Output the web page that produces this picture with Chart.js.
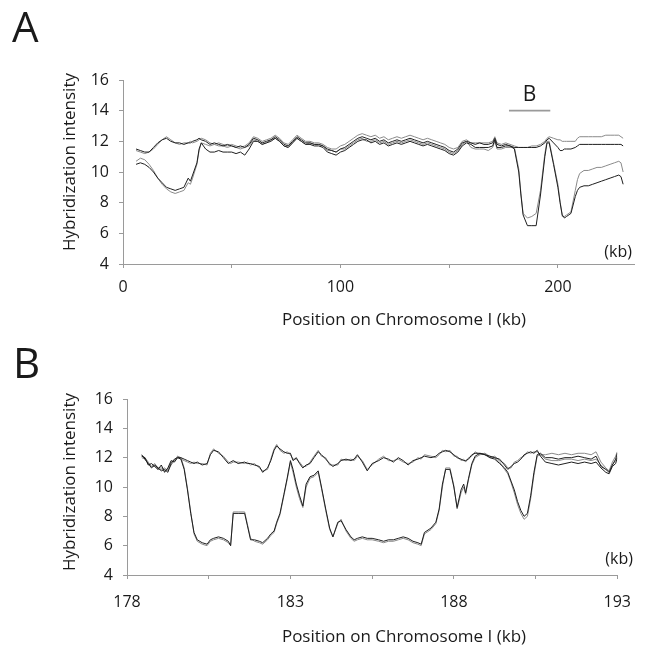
<!DOCTYPE html>
<html><head><meta charset="utf-8">
<script src="https://cdn.jsdelivr.net/npm/chart.js@4.4.0/dist/chart.umd.min.js"></script>
<style>
html,body{margin:0;padding:0;background:#fff;}
#wrap{position:relative;width:645px;height:645px;overflow:hidden;background:#fff;}
canvas{position:absolute;left:0;}
</style></head><body>
<div id="wrap">
<canvas id="ca" width="645" height="330" style="top:0px"></canvas>
<canvas id="cb" width="645" height="315" style="top:330px"></canvas>
</div>
<script>
// ---------- Panel A data (position in kb, hybridization intensity) ----------
const aPos = [6,8,10,12,14,16,18,20,22,24,
  26,28,30,31,32,34,35,36,38,40,
  42,44,46,48,50,52,54,56,58,60,
  62,64,66,68,70,72,74,76,78,80,
  82,84,86,88,90,92,94,96,98,100,
  102,104,106,108,110,112,114,116,118,120,
  122,124,126,128,130,132,134,136,138,140,
  142,144,146,148,150,152,154,156,158,160,
  162,164,166,168,170,171,172,174,176,178,
  180,182,183,184,186,188,190,192,194,195,
  196,198,200,201,202,203,204,206,208,209,
  210,212,214,216,218,220,222,224,226,228,
  229,230];
const aHi1 = [11.5,11.4,11.3,11.3,11.6,11.9,12.1,12.2,12.0,11.9,
  11.9,11.8,11.9,11.9,12.0,12.1,12.2,12.1,12.0,11.8,
  11.9,11.8,11.7,11.8,11.7,11.6,11.7,11.6,11.8,12.2,
  12.1,11.9,12.0,12.1,12.3,12.1,11.8,11.7,12.0,12.3,
  12.1,11.9,11.9,11.8,11.8,11.7,11.5,11.4,11.3,11.5,
  11.6,11.8,12.0,12.2,12.3,12.2,12.1,12.2,12.0,12.1,
  11.9,12.0,12.1,12.0,12.1,12.2,12.1,12.0,11.9,12.0,
  11.9,11.8,11.7,11.6,11.4,11.3,11.5,11.9,12.0,11.9,
  11.8,11.9,11.8,11.8,11.9,12.2,11.8,11.7,11.8,11.7,
  11.6,11.6,11.6,11.6,11.6,11.6,11.6,11.7,11.9,12.1,
  12.2,11.9,11.6,11.4,11.4,11.5,11.5,11.5,11.6,11.7,
  11.8,11.8,11.8,11.8,11.8,11.8,11.8,11.8,11.8,11.8,
  11.8,11.7];
const aHi2 = [11.4,11.3,11.2,11.3,11.5,11.8,12.1,12.3,12.1,11.9,
  11.8,11.9,11.9,12.0,11.9,12.0,12.1,12.2,12.1,11.9,
  11.8,11.9,11.8,11.7,11.8,11.7,11.6,11.7,11.9,12.3,
  12.2,12.0,12.1,12.2,12.4,12.2,11.9,11.8,12.1,12.4,
  12.2,12.0,12.0,11.9,11.9,11.8,11.6,11.5,11.5,11.7,
  11.8,12.0,12.2,12.4,12.5,12.4,12.3,12.4,12.2,12.3,
  12.1,12.2,12.3,12.2,12.3,12.4,12.3,12.2,12.1,12.2,
  12.1,12.0,11.9,11.8,11.6,11.5,11.6,12.0,12.1,11.9,
  11.9,11.9,11.9,11.9,12.0,12.3,11.9,11.8,11.9,11.8,
  11.7,11.6,11.6,11.6,11.6,11.7,11.7,11.8,12.0,12.2,
  12.3,12.2,12.1,12.1,12.0,12.0,12.0,12.0,12.0,12.2,
  12.3,12.3,12.3,12.3,12.3,12.3,12.4,12.4,12.4,12.4,
  12.3,12.2];
const aLo1 = [10.5,10.6,10.5,10.3,10.0,9.6,9.3,9.0,8.9,8.8,
  8.9,9.0,9.6,9.4,9.8,10.6,11.5,11.9,11.5,11.3,
  11.3,11.4,11.3,11.3,11.3,11.2,11.3,11.1,11.5,12.0,
  12.0,11.8,11.9,12.0,12.2,12.0,11.7,11.6,11.9,12.2,
  12.0,11.8,11.8,11.7,11.7,11.6,11.3,11.2,11.1,11.3,
  11.4,11.6,11.8,12.0,12.1,12.1,11.9,12.0,11.8,11.9,
  11.7,11.8,11.9,11.8,11.9,12.0,11.9,11.8,11.7,11.8,
  11.7,11.6,11.5,11.4,11.2,11.1,11.3,11.7,11.9,11.8,
  11.6,11.6,11.6,11.6,11.7,12.1,11.6,11.6,11.7,11.7,
  11.5,10.0,8.5,7.2,6.5,6.5,6.5,8.5,11.0,11.9,
  11.9,10.5,9.0,8.0,7.2,7.0,7.1,7.3,8.4,8.8,
  9.0,9.1,9.1,9.2,9.3,9.4,9.5,9.6,9.7,9.8,
  9.7,9.2];
const aLo2 = [10.7,10.9,10.8,10.5,10.1,9.6,9.2,8.9,8.7,8.6,
  8.7,8.8,9.3,9.2,9.6,10.5,11.4,11.9,11.8,11.7,
  11.8,11.7,11.7,11.6,11.7,11.6,11.5,11.6,11.7,12.1,
  12.0,11.8,11.9,12.1,12.2,12.0,11.7,11.6,11.9,12.2,
  12.0,11.8,11.9,11.8,11.8,11.7,11.4,11.4,11.3,11.5,
  11.5,11.7,11.9,12.1,12.2,12.0,12.0,12.1,11.9,12.0,
  11.8,11.9,12.0,11.9,12.0,12.1,12.0,11.9,11.8,11.9,
  11.8,11.7,11.6,11.5,11.3,11.2,11.4,11.8,12.0,11.6,
  11.5,11.5,11.5,11.4,11.6,12.0,11.5,11.5,11.6,11.6,
  11.6,10.2,8.6,7.3,7.0,7.1,7.3,8.8,11.2,12.0,
  12.0,10.6,9.2,8.1,7.1,7.1,7.2,7.4,8.8,9.5,
  9.9,10.1,10.1,10.2,10.3,10.3,10.4,10.5,10.6,10.7,
  10.6,10.0];
// region shown in panel B (marker bar) and its label position
const regionB = [177.5, 196.5];
const regionBLevel = 14;

// ---------- Panel B data ----------
const bPos = [178.45,178.55,178.65,178.75,178.85,178.95,179.05,179.15,179.25,179.35,
  179.45,179.55,179.65,179.75,179.85,179.95,180.05,180.15,180.3,180.45,
  180.55,180.65,180.8,180.95,181.1,181.17,181.25,181.4,181.6,181.68,
  181.78,181.9,182.05,182.15,182.3,182.4,182.5,182.58,182.68,182.8,
  182.9,183.0,183.08,183.18,183.28,183.38,183.48,183.6,183.72,183.85,
  183.95,184.08,184.2,184.3,184.45,184.55,184.7,184.85,184.95,185.05,
  185.2,185.35,185.5,185.7,185.85,186.0,186.15,186.3,186.45,186.6,
  186.75,186.9,187.0,187.1,187.3,187.45,187.55,187.65,187.75,187.88,
  188.0,188.1,188.22,188.3,188.36,188.45,188.55,188.65,188.8,188.95,
  189.1,189.25,189.4,189.55,189.65,189.75,189.85,189.95,190.05,190.15,
  190.25,190.35,190.45,190.55,190.65,190.8,191.0,191.2,191.4,191.6,
  191.8,192.0,192.2,192.35,192.5,192.65,192.75,192.85,192.95,193.0];
const bHi1 = [12.1,12.0,11.5,11.6,11.4,11.2,11.5,11.0,11.3,11.8,
  11.7,12.0,12.0,11.9,11.8,11.7,11.6,11.7,11.5,11.6,
  12.2,12.5,12.4,12.0,11.6,11.7,11.8,11.6,11.7,11.6,
  11.6,11.5,11.4,11.0,11.3,11.8,12.5,12.8,12.6,12.4,
  12.3,12.3,11.8,12.0,11.6,11.3,11.5,11.6,12.0,12.4,
  12.2,11.9,11.6,11.4,11.6,11.8,11.9,11.8,11.9,12.2,
  11.7,11.1,11.6,11.8,12.0,11.9,11.7,12.0,11.8,11.5,
  11.8,11.9,12.0,12.1,12.0,12.1,12.3,12.4,12.5,12.4,
  12.2,12.0,11.9,11.8,11.8,11.9,12.2,12.3,12.3,12.2,
  12.1,12.0,11.9,11.5,11.2,11.4,11.6,11.7,11.9,12.2,
  12.3,12.4,12.3,12.5,12.1,11.7,11.6,11.5,11.6,11.7,
  11.6,11.7,11.6,11.7,11.3,11.0,10.9,11.4,11.6,12.0];
const bHi2 = [12.0,11.9,11.6,11.4,11.6,11.3,11.3,11.1,11.2,11.7,
  11.8,12.1,11.9,11.8,11.7,11.6,11.7,11.6,11.6,11.5,
  12.3,12.6,12.3,12.1,11.7,11.6,11.7,11.7,11.6,11.7,
  11.5,11.6,11.3,11.1,11.2,11.9,12.6,12.9,12.5,12.3,
  12.4,12.2,11.9,11.9,11.7,11.4,11.4,11.7,12.1,12.5,
  12.1,12.0,11.5,11.5,11.5,11.9,11.8,11.9,11.8,12.1,
  11.8,11.2,11.5,11.9,12.1,11.8,11.8,11.9,11.7,11.6,
  11.7,12.0,11.9,12.2,12.1,12.0,12.2,12.5,12.4,12.5,
  12.1,12.1,11.8,11.9,11.7,12.0,12.1,12.4,12.2,12.3,
  12.0,12.1,11.8,11.6,11.3,11.3,11.7,11.8,12.0,12.1,
  12.4,12.3,12.4,12.4,12.2,11.9,11.8,11.8,11.9,11.9,
  11.8,11.9,11.8,11.9,11.5,11.2,11.1,11.5,11.8,12.1];
const bLo1 = [12.2,11.9,11.6,11.3,11.5,11.3,11.1,11.2,11.0,11.6,
  11.9,12.0,11.9,11.2,9.8,8.2,6.9,6.4,6.2,6.1,
  6.4,6.5,6.6,6.5,6.3,6.0,8.2,8.2,8.2,7.4,
  6.4,6.4,6.3,6.2,6.5,6.8,7.0,7.6,8.2,9.5,
  10.6,11.8,11.2,10.2,9.4,8.7,10.2,10.7,10.8,11.1,
  10.0,8.5,7.2,6.6,7.6,7.7,7.1,6.6,6.4,6.5,
  6.6,6.5,6.5,6.4,6.3,6.4,6.4,6.5,6.6,6.5,
  6.3,6.2,6.1,6.9,7.2,7.6,8.5,10.2,11.2,11.2,
  10.0,8.6,9.8,10.2,9.6,10.6,11.6,12.1,12.3,12.2,
  12.0,11.9,11.6,11.3,11.0,10.4,9.8,9.0,8.4,8.0,
  8.2,9.4,11.0,12.2,12.3,12.0,12.0,11.9,12.0,12.0,
  12.1,12.0,11.9,12.1,11.4,11.2,11.0,11.5,11.9,12.3];
const bLo2 = [12.1,12.0,11.7,11.4,11.4,11.2,11.2,11.3,11.1,11.5,
  11.8,12.1,12.0,11.3,9.9,8.3,6.8,6.3,6.1,6.0,
  6.3,6.4,6.5,6.4,6.2,6.0,8.3,8.3,8.3,7.5,
  6.5,6.3,6.2,6.1,6.4,6.7,6.9,7.5,8.1,9.4,
  10.5,11.7,11.0,10.0,9.2,8.6,10.0,10.6,10.7,11.0,
  9.9,8.4,7.1,6.6,7.5,7.8,7.0,6.5,6.3,6.4,
  6.5,6.4,6.4,6.3,6.2,6.3,6.3,6.4,6.5,6.4,
  6.2,6.1,6.0,6.8,7.1,7.5,8.4,10.0,11.3,11.3,
  10.1,8.5,9.6,10.0,9.5,10.5,11.5,12.0,12.2,12.3,
  12.1,12.0,11.7,11.2,10.9,10.3,9.6,8.8,8.2,7.8,
  8.0,9.2,10.8,12.1,12.2,12.2,12.3,12.2,12.3,12.2,
  12.3,12.3,12.2,12.4,11.7,11.3,11.1,11.7,12.1,12.4];

// ---------- axis tick definitions ----------
const aTickLabels = [0, 100, 200];
const bTickLabels = [178, 183, 188, 193];
const yTicks = [4, 6, 8, 10, 12, 14, 16];

// ---------- styling ----------
const FONT = "'Open Sans', 'Noto Sans', sans-serif";
const TEXT = '#1a1a1a';
const AXIS = '#9a9a9a';
const DARK = '#1e1e1e';
const GRAY = '#8a8a8a';
Chart.defaults.font.family = FONT;
Chart.defaults.color = TEXT;

function pts(xs, ys) { return xs.map((x, i) => ({ x: x, y: ys[i] })); }
function lineDs(data, color) {
  return { data: data, borderColor: color, borderWidth: 1, pointRadius: 0, tension: 0, fill: false };
}

function textPlugin(draw) {
  return { id: 'texts' + Math.random().toString(36).slice(2), afterDraw(chart) {
    const ctx = chart.ctx; ctx.save(); ctx.fillStyle = TEXT; draw(ctx, chart); ctx.restore();
  } };
}

function baseOptions(cfg) {
  return {
    responsive: false, animation: false, devicePixelRatio: 1,
    layout: { padding: cfg.padding },
    plugins: { legend: { display: false }, tooltip: { enabled: false } },
    scales: {
      x: {
        type: 'linear', min: cfg.xmin, max: cfg.xmax,
        ticks: { stepSize: cfg.xstep, autoSkip: false, maxRotation: 0, padding: cfg.xpad,
          font: { size: 16 }, color: TEXT,
          callback: (v) => cfg.xlabels.some(l => Math.abs(l - v) < 1e-6) ? String(v) : '' },
        grid: { drawOnChartArea: false, drawTicks: true, tickLength: 4, color: AXIS, lineWidth: 1 },
        border: { display: true, color: AXIS, width: 1 },
        afterBuildTicks: (s) => { s.ticks = s.ticks.filter(t => cfg.xkeep(t.value)); },
        afterFit: (s) => { s.height = cfg.xh; }
      },
      y: {
        type: 'linear', min: 4, max: 16,
        ticks: { stepSize: 2, padding: 10, font: { size: 16 }, color: TEXT },
        afterBuildTicks: (s) => { s.ticks = yTicks.map(v => ({ value: v })); },
        grid: { drawOnChartArea: false, drawTicks: true, tickLength: 4, color: AXIS, lineWidth: 1 },
        border: { display: true, color: AXIS, width: 1 },
        afterFit: (s) => { s.width = cfg.yw; }
      }
    }
  };
}

// ---------- Panel A ----------
new Chart(document.getElementById('ca'), {
  type: 'line',
  data: { datasets: [
    lineDs(pts(aPos, aHi1), DARK),
    lineDs(pts(aPos, aLo1), DARK),
    lineDs(pts(aPos, aHi2), GRAY),
    lineDs(pts(aPos, aLo2), GRAY),
    Object.assign(lineDs(regionB.map(x => ({ x: x, y: regionBLevel })), '#9a9a9a'), { borderWidth: 1.6 })
  ] },
  options: baseOptions({ padding: { left: 0, top: 80, right: 11, bottom: 0 },
    xmin: 0, xmax: 235, xstep: 50, xpad: 10, xlabels: aTickLabels, xh: 66, yw: 123,
    xkeep: (v) => v % 50 === 0 && v <= 200 }),
  plugins: [textPlugin((ctx, chart) => {
    const xs = chart.scales.x, ys = chart.scales.y;
    ctx.textAlign = 'left'; ctx.textBaseline = 'alphabetic';
    ctx.font = '42px ' + FONT; ctx.fillText('A', 12, 42);
    ctx.font = '21px ' + FONT; ctx.textAlign = 'center'; ctx.textBaseline = 'middle';
    ctx.fillText('B', xs.getPixelForValue((regionB[0] + regionB[1]) / 2), ys.getPixelForValue(15));
    ctx.font = '16px ' + FONT; ctx.textAlign = 'right';
    ctx.fillText('(kb)', 632, 252);
    ctx.font = '17px ' + FONT; ctx.textAlign = 'center';
    ctx.fillText('Position on Chromosome I (kb)', 404, 320);
    ctx.save(); ctx.translate(70, 162); ctx.rotate(-Math.PI / 2);
    ctx.fillText('Hybridization intensity', 0, 0); ctx.restore();
  })]
});

// ---------- Panel B ----------
new Chart(document.getElementById('cb'), {
  type: 'line',
  data: { datasets: [
    lineDs(pts(bPos, bHi1), DARK),
    lineDs(pts(bPos, bLo1), DARK),
    lineDs(pts(bPos, bHi2), GRAY),
    lineDs(pts(bPos, bLo2), GRAY)
  ] },
  options: baseOptions({ padding: { left: 0, top: 69, right: 14, bottom: 0 },
    xmin: 178, xmax: 193, xstep: 2.5, xpad: 14, xlabels: bTickLabels, xh: 70, yw: 127,
    xkeep: (v) => true }),
  plugins: [textPlugin((ctx, chart) => {
    ctx.textAlign = 'left'; ctx.textBaseline = 'alphabetic';
    ctx.font = '42px ' + FONT; ctx.fillText('B', 13, 48);
    ctx.font = '16px ' + FONT; ctx.textAlign = 'right'; ctx.textBaseline = 'middle';
    ctx.fillText('(kb)', 633, 229);
    ctx.font = '17px ' + FONT; ctx.textAlign = 'center';
    ctx.fillText('Position on Chromosome I (kb)', 404, 307);
    ctx.save(); ctx.translate(70, 152); ctx.rotate(-Math.PI / 2);
    ctx.fillText('Hybridization intensity', 0, 0); ctx.restore();
  })]
});
</script>
</body></html>
